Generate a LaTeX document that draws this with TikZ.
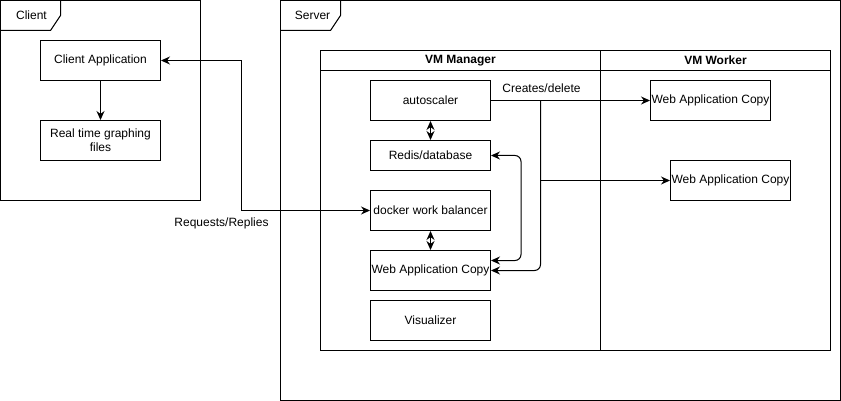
\documentclass[tikz,border=0pt]{standalone}
\usepackage{fontspec}
\setmainfont{Liberation Sans}
\usetikzlibrary{arrows.meta, positioning, calc}

\begin{document}
\begin{tikzpicture}[
  x=1pt, y=-1pt,
  every node/.style={font=\fontsize{12}{14}\selectfont},
  frame/.style={draw, line width=1pt},
  box/.style={rectangle, draw, line width=1pt, minimum width=120pt, inner sep=1pt, align=center},
  msg/.style={-{Stealth[length=9pt, width=8pt, inset=3pt]}, line width=1pt},
  dbl/.style={{Stealth[length=9pt, width=8pt, inset=3pt]}-{Stealth[length=9pt, width=8pt, inset=3pt]}, line width=1pt},
]
  \useasboundingbox (-0.5,-0.5) rectangle (840.5,400.5);

  % client frame
  \draw[frame] (0,0) rectangle (200,200);
  \draw[frame] (0,30) -- (50,30) -- (60,15) -- (60,0);
  \node (clientlbl) at (31,15) {Client};

  % server frame
  \draw[frame] (280,0) rectangle (840,400);
  \draw[frame] (280,30) -- (330,30) -- (340,15) -- (340,0);
  \node (serverlbl) at (312,15) {Server};

  % pool with two lanes
  \draw[frame] (320,50) rectangle (830,350);
  \draw[frame] (320,70) -- (830,70);
  \draw[frame] (600,50) -- (600,350);
  \node[font=\fontsize{12}{14}\selectfont\bfseries] (mgrlbl) at (460,60) {VM Manager};
  \node[font=\fontsize{12}{14}\selectfont\bfseries] (wrklbl) at (715,60) {VM Worker};

  % client side
  \node[box, minimum height=40pt] (capp) at (100,60) {Client Application};
  \node[box, minimum height=40pt] (graph) at (100,140) {Real time graphing\\files};

  % manager side
  \node[box, minimum height=40pt] (scaler) at (430,100) {autoscaler};
  \node[box, minimum height=30pt] (redis) at (430,155) {Redis/database};
  \node[box, minimum height=40pt] (docker) at (430,210) {docker work balancer};
  \node[box, minimum height=40pt] (wacm) at (430,270) {Web Application Copy};
  \node[box, minimum height=40pt] (visual) at (430,320) {Visualizer};

  % worker side
  \node[box, minimum height=40pt] (waca) at (710,100) {Web Application Copy};
  \node[box, minimum height=40pt] (wacb) at (730,180) {Web Application Copy};

  % connectors
  \draw[msg] (capp) -- (graph);
  \draw[dbl] (capp.east) -- ++(80,0) |- (docker.west);
  \node (reqlbl) at (221,223) {Requests/Replies};

  \draw[dbl] (scaler) -- (redis);
  \draw[dbl] (docker) -- (wacm);

  \draw[msg] (scaler.east) -- (waca.west);
  \node (crlbl) at (541,88) {Creates/delete};
  \coordinate (split) at (540,100);
  \draw[msg] (split) |- (wacb.west);
  \draw[msg, rounded corners=6pt] (split) |- (wacm.east);
  \draw[dbl, rounded corners=6pt] (redis.east) -- ++(30,0) |- ([yshift=10pt]wacm.east);
\end{tikzpicture}
\end{document}
